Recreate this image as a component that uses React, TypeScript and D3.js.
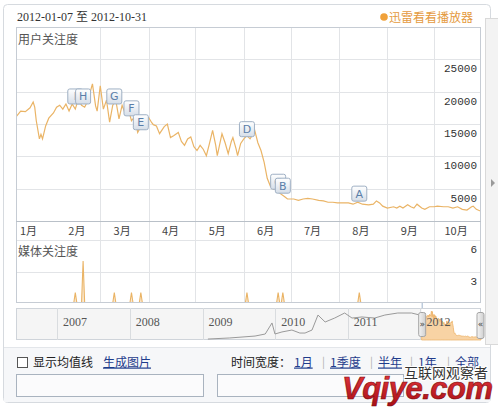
import React from "react";
import * as d3 from "d3";

const W = 498;
const H = 408;

// 用户关注度 (daily attention index, 2012)
const attentionDates = [
  "01-07", "01-10", "01-13", "01-16", "01-18", "01-19", "01-20", "01-22", "01-23", "01-24",
  "01-26", "01-28", "01-31", "02-02", "02-04", "02-06", "02-08", "02-10", "02-12", "02-14",
  "02-16", "02-18", "02-20", "02-22", "02-25", "02-27", "02-28", "03-01", "03-03", "03-05",
  "03-07", "03-09", "03-11", "03-13", "03-15", "03-17", "03-19", "03-21", "03-23", "03-25",
  "03-27", "03-28", "03-30", "04-01", "04-03", "04-04", "04-06", "04-08", "04-11", "04-13",
  "04-15", "04-17", "04-20", "04-22", "04-24", "04-26", "04-28", "04-30", "05-02", "05-04",
  "05-06", "05-08", "05-10", "05-12", "05-14", "05-15", "05-18", "05-20", "05-22", "05-24",
  "05-25", "05-27", "05-28", "05-30", "06-01", "06-03", "06-05", "06-07", "06-08", "06-10",
  "06-12", "06-14", "06-16", "06-18", "06-20", "06-22", "06-24", "06-27", "06-29", "07-03",
  "07-06", "07-09", "07-12", "07-15", "07-19", "07-22", "07-25", "07-28", "07-31", "08-04",
  "08-07", "08-10", "08-13", "08-16", "08-20", "08-23", "08-25", "08-27", "08-29", "09-01",
  "09-05", "09-07", "09-09", "09-11", "09-14", "09-16", "09-18", "09-20", "09-23", "09-25",
  "09-28", "10-01", "10-03", "10-07", "10-10", "10-13", "10-16", "10-19", "10-22", "10-25",
  "10-26", "10-28", "10-31",
];
const attentionValues = [
  16100, 17000, 16900, 17500, 18400, 17600, 15500, 12700, 13400, 12700,
  14700, 15900, 16700, 17600, 17900, 17300, 18100, 17000, 18100, 17300,
  18900, 17900, 17600, 18600, 21200, 17800, 17000, 20900, 17300, 18700,
  15300, 17900, 18600, 15800, 17900, 16600, 17300, 15500, 16100, 13700,
  14600, 14300, 15700, 16000, 15200, 14900, 14700, 13500, 14600, 15000,
  12900, 13200, 13700, 12300, 11700, 12700, 13000, 11500, 10900, 11700,
  11100, 10100, 12000, 14000, 11700, 10100, 13500, 12100, 10400, 12300,
  12900, 11200, 10100, 12000, 12700, 13200, 12700, 13500, 14000, 12100,
  10900, 9100, 6600, 5400, 4900, 5200, 4300, 3800, 3400, 3400,
  3200, 3400, 3500, 3400, 3200, 3100, 2900, 2900, 2800, 2800,
  2800, 2600, 2900, 2600, 2500, 2600, 3100, 2800, 2300, 2000,
  2200, 2000, 2300, 2000, 2500, 2200, 2000, 2600, 2000, 1800,
  2200, 2200, 2300, 2200, 2200, 2000, 2200, 1800, 1700, 2200,
  2300, 1800, 1500,
];

const monthLabels = ["1月", "2月", "3月", "4月", "5月", "6月", "7月", "8月", "9月", "10月"];
const attentionTicks = [5000, 10000, 15000, 20000, 25000];

// 媒体关注度 (news items per day) and the lettered events on the same days
const mediaDates = [
  "2012-02-14", "2012-02-19", "2012-03-10", "2012-03-21", "2012-03-27",
  "2012-06-03", "2012-06-23", "2012-06-26", "2012-08-14",
];
const mediaCounts = [1, 4, 1, 1, 1, 1, 1, 1, 1];
const mediaTicks = [3, 6];
const eventLetters = ["I", "H", "G", "F", "E", "D", "C", "B", "A"];
const eventLevels = [18100, 18100, 18100, 16260, 14110, 13040, 4910, 4300, 3070];

// long-range overview before the selected window
const historyDates = [
  "2009-01-28", "2009-05-18", "2009-09-22", "2009-11-12", "2009-12-16", "2009-12-31",
  "2010-02-04", "2010-03-26", "2010-05-05", "2010-05-31", "2010-07-05", "2010-08-04",
  "2010-09-09", "2010-10-27", "2010-12-16", "2011-01-22", "2011-03-13", "2011-05-16",
  "2011-07-06", "2011-09-09", "2011-11-17", "2011-12-29",
];
const historyValues = [
  700, 1500, 2900, 4400, 12500, 4400,
  5900, 7300, 5100, 5100, 7300, 18300,
  13200, 16100, 19800, 16100, 16900, 16100,
  18300, 19800, 19800, 18300,
];
const yearLabels = ["2007", "2008", "2009", "2010", "2011", "2012"];

const spanOptions = ["1月", "1季度", "半年", "1年", "全部"];

const parse = d3.timeParse("%Y-%m-%d");
const CJK = "'Noto Sans CJK SC', 'Noto Sans', sans-serif";
const SERIF = "'Liberation Serif', 'DejaVu Serif', serif";
const MONO = "'Liberation Mono', 'DejaVu Sans Mono', monospace";

const LINE_COLOR = "#EAB466";

export default function App() {
  const start = parse("2012-01-07") as Date;
  const end = parse("2012-10-31") as Date;

  const plotL = 16;
  const plotR = 481;
  const plotT = 27;
  const mainB = 221;
  const mediaT = 240;
  const mediaB = 303;
  const navT = 308;
  const navB = 340;

  const x = d3.scaleTime().domain([start, end]).range([plotL, plotR]);
  const y = d3.scaleLinear().domain([0, 30000]).range([mainB, plotT]);
  const yMedia = d3.scaleLinear().domain([0, 6]).range([mediaB, mediaT]);

  const attention = attentionDates.map((d, i) => ({
    date: parse("2012-" + d) as Date,
    value: attentionValues[i],
  }));

  const line = d3
    .line<{ date: Date; value: number }>()
    .x((d) => x(d.date))
    .y((d) => y(d.value));

  // daily media series, zero on days without coverage
  const countByDay = new Map(mediaDates.map((d, i) => [d, mediaCounts[i]]));
  const fmt = d3.timeFormat("%Y-%m-%d");
  const mediaSeries = d3.timeDay
    .range(start, d3.timeDay.offset(end, 1))
    .map((d) => ({ date: d, value: countByDay.get(fmt(d)) ?? 0 }));
  const mediaArea = d3
    .area<{ date: Date; value: number }>()
    .x((d) => x(d.date))
    .y0(mediaB)
    .y1((d) => yMedia(d.value));
  const mediaLine = d3
    .line<{ date: Date; value: number }>()
    .x((d) => x(d.date))
    .y((d) => yMedia(d.value));

  const monthStarts = d3.timeMonth.range(d3.timeMonth.offset(start, 1), end);

  // overview navigator
  const navX = d3
    .scaleTime()
    .domain([parse("2006-06-09") as Date, end])
    .range([plotL, plotR]);
  const navY = d3.scaleLinear().domain([0, 22000]).range([navB, navB - 30]);
  const history = historyDates.map((d, i) => ({
    date: parse(d) as Date,
    value: historyValues[i],
  }));
  const navLine = d3
    .line<{ date: Date; value: number }>()
    .x((d) => navX(d.date))
    .y((d) => navY(d.value));
  const navArea = d3
    .area<{ date: Date; value: number }>()
    .x((d) => navX(d.date))
    .y0(navB)
    .y1((d) => navY(d.value));
  const selL = navX(start);
  const yearStarts = yearLabels.map((yr) => parse(yr + "-01-01") as Date);

  const spanX = [294, 330, 378, 418, 455];

  return (
    <svg
      width={W}
      height={H}
      style={{ position: "absolute", left: 0, top: 0, background: "#fff" }}
    >
      <defs>
        <linearGradient id="evtFill" x1="0" y1="0" x2="0" y2="1">
          <stop offset="0" stopColor="#ffffff" />
          <stop offset="1" stopColor="#d6dee8" />
        </linearGradient>
        <linearGradient id="handleFill" x1="0" y1="0" x2="1" y2="0">
          <stop offset="0" stopColor="#f4f4f4" />
          <stop offset="1" stopColor="#cfcfcf" />
        </linearGradient>
        <linearGradient id="brandFill" x1="0" y1="0" x2="0" y2="1">
          <stop offset="0" stopColor="#e8373d" />
          <stop offset="1" stopColor="#a80f16" />
        </linearGradient>
        <clipPath id="plotClip">
          <rect x={plotL} y={plotT} width={plotR - plotL} height={mediaB - plotT} />
        </clipPath>
      </defs>

      {/* outer frame */}
      <rect x={3.5} y={4.5} width={487} height={398} rx={4} fill="#fff" stroke="#d6dadf" />
      <rect x={4} y={347} width={486} height={55} fill="#f6f7f9" />
      <line x1={4} x2={490} y1={347.5} y2={347.5} stroke="#e3e6ea" />

      {/* side tab */}
      <rect x={485.5} y={18.5} width={14} height={326} fill="#f3f3f3" stroke="#d9d9d9" />
      <path d="M491,179 L495,183 L491,187 Z" fill="#9a9a9a" />

      {/* header */}
      <text x={17} y={21} fontFamily={SERIF} fontSize={12} fill="#333">
        2012-01-07 <tspan fontFamily={CJK}>至</tspan> 2012-10-31
      </text>
      <circle cx={384} cy={17} r={3.8} fill="#F0A13A" />
      <text x={389} y={21.5} fontFamily={CJK} fontSize={12} fill="#E49A3E">
        迅雷看看播放器
      </text>

      {/* plot background and grid */}
      <rect x={plotL} y={plotT} width={plotR - plotL} height={mediaB - plotT} fill="#fff" />
      {monthStarts.map((m, i) => (
        <line
          key={"vg" + i}
          x1={Math.round(x(m)) + 0.5}
          x2={Math.round(x(m)) + 0.5}
          y1={plotT}
          y2={mediaB}
          stroke="#e2e4e7"
        />
      ))}
      {attentionTicks.map((t) => (
        <line
          key={"hg" + t}
          x1={plotL}
          x2={plotR}
          y1={Math.round(y(t)) + 0.5}
          y2={Math.round(y(t)) + 0.5}
          stroke="#e2e4e7"
        />
      ))}
      {mediaTicks
        .filter((t) => t < 6)
        .map((t) => (
          <line
            key={"mg" + t}
            x1={plotL}
            x2={plotR}
            y1={Math.round(yMedia(t)) + 0.5}
            y2={Math.round(yMedia(t)) + 0.5}
            stroke="#e2e4e7"
          />
        ))}
      <line x1={plotL} x2={plotR} y1={mediaT + 0.5} y2={mediaT + 0.5} stroke="#e2e4e7" />

      {/* y labels */}
      {attentionTicks.map((t) => (
        <text
          key={"yl" + t}
          x={477}
          y={y(t) + 13}
          textAnchor="end"
          fontFamily={MONO}
          fontSize={11}
          fill="#333"
        >
          {t}
        </text>
      ))}
      {mediaTicks.map((t) => (
        <text
          key={"ml" + t}
          x={477}
          y={yMedia(t) + 13}
          textAnchor="end"
          fontFamily={MONO}
          fontSize={11}
          fill="#333"
        >
          {t}
        </text>
      ))}

      <text x={18} y={44} fontFamily={CJK} fontSize={12} fill="#555">
        用户关注度
      </text>
      <text x={18} y={256} fontFamily={CJK} fontSize={12} fill="#555">
        媒体关注度
      </text>

      {/* month labels */}
      {monthLabels.map((lab, i) => (
        <text
          key={"mo" + i}
          x={x(new Date(2012, i, 15))}
          y={235}
          textAnchor="middle"
          fontFamily={CJK}
          fontSize={11}
          fill="#444"
        >
          {lab}
        </text>
      ))}

      {/* series */}
      <g clipPath="url(#plotClip)">
        <path d={line(attention) ?? ""} fill="none" stroke={LINE_COLOR} strokeWidth={1.2} />
        <path d={mediaArea(mediaSeries) ?? ""} fill="#F7D9B0" opacity={0.6} />
        <path d={mediaLine(mediaSeries) ?? ""} fill="none" stroke={LINE_COLOR} strokeWidth={1.1} />
      </g>

      {/* event flags */}
      {eventLetters.map((letter, i) => {
        const cx = x(parse(mediaDates[i]) as Date);
        const bottom = y(eventLevels[i]);
        return (
          <g key={"ev" + letter}>
            <rect
              x={cx - 7.5}
              y={bottom - 15}
              width={15}
              height={15}
              rx={2}
              fill="url(#evtFill)"
              stroke="#9fb0c4"
            />
            <text
              x={cx}
              y={bottom - 3.5}
              textAnchor="middle"
              fontFamily="'DejaVu Sans', sans-serif"
              fontSize={11}
              fill="#5a7ea8"
            >
              {letter}
            </text>
          </g>
        );
      })}

      {/* plot frame */}
      <rect
        x={plotL + 0.5}
        y={plotT + 0.5}
        width={plotR - plotL - 1}
        height={mediaB - plotT - 1}
        fill="none"
        stroke="#c6ccd4"
      />
      <line x1={plotL} x2={plotR} y1={mainB + 0.5} y2={mainB + 0.5} stroke="#b9c0c8" />

      {/* navigator */}
      <rect x={plotL + 0.5} y={navT + 0.5} width={plotR - plotL - 1} height={navB - navT - 1} fill="#f5f5f5" stroke="#cfd4da" />
      <rect x={selL} y={navT + 1} width={plotR - selL - 1} height={navB - navT - 2} fill="#fff" />
      {yearStarts.map((d, i) => (
        <line
          key={"yd" + i}
          x1={Math.round(navX(d)) + 0.5}
          x2={Math.round(navX(d)) + 0.5}
          y1={navT}
          y2={navB}
          stroke="#d9dcdf"
        />
      ))}
      <path d={navLine(history) ?? ""} fill="none" stroke="#9a9a9a" strokeWidth={1} />
      <path d={navArea(attention) ?? ""} fill="#F8D3A4" stroke="#EDB46A" strokeWidth={0.8} />
      {yearStarts.map((d, i) => (
        <text
          key={"yl" + i}
          x={navX(d) + 6}
          y={326}
          fontFamily={SERIF}
          fontSize={12}
          fill="#555"
        >
          {yearLabels[i]}
        </text>
      ))}
      <line x1={selL + 0.5} x2={selL + 0.5} y1={mediaB} y2={navT} stroke="#9db3cc" />
      <rect x={selL - 3} y={312.5} width={7} height={24} rx={2} fill="url(#handleFill)" stroke="#a5a5a5" />
      <text x={selL + 0.5} y={327} textAnchor="middle" fontSize={9} fill="#444" fontFamily="'DejaVu Sans', sans-serif">»</text>
      <rect x={plotR - 4} y={312.5} width={7} height={26} rx={2} fill="url(#handleFill)" stroke="#a5a5a5" />
      <text x={plotR - 0.5} y={327} textAnchor="middle" fontSize={9} fill="#444" fontFamily="'DejaVu Sans', sans-serif">«</text>

      {/* controls */}
      <rect x={17.5} y={357.5} width={10} height={10} fill="#fff" stroke="#555" />
      <text x={33} y={366.5} fontFamily={CJK} fontSize={12} fill="#222">
        显示均值线
      </text>
      <text x={103} y={366.5} fontFamily={CJK} fontSize={12} fill="#1f3c8c" textDecoration="underline">
        生成图片
      </text>
      <rect x={16.5} y={374.5} width={187} height={22} fill="#fbfbfc" stroke="#a9b3bf" />
      <rect x={217.5} y={374.5} width={186} height={22} fill="#fbfbfc" stroke="#a9b3bf" />

      <text x={231} y={366.5} fontFamily={CJK} fontSize={12} fill="#222">
        时间宽度：
      </text>
      {spanOptions.map((s, i) => (
        <g key={"sp" + i}>
          <text x={spanX[i]} y={366.5} fontFamily={CJK} fontSize={12} fill="#1f3c8c" textDecoration="underline">
            {s}
          </text>
          {i > 0 && (
            <text x={spanX[i] - 8} y={366} fontFamily={CJK} fontSize={11} fill="#b0b0b0">
              |
            </text>
          )}
        </g>
      ))}

      {/* site mark */}
      <text
        x={342}
        y={399}
        fontFamily="'Liberation Sans', 'DejaVu Sans', sans-serif"
        fontSize={31}
        fontWeight={900}
        fontStyle="italic"
        fill="url(#brandFill)"
        stroke="#7a0a0e"
        strokeWidth={0.6}
        letterSpacing={-0.5}
      >
        Vqiye.com
      </text>
      <text x={404} y={378} fontFamily={CJK} fontSize={14} fill="#333" stroke="#fff" strokeWidth={2} paintOrder="stroke">
        互联网观察者
      </text>
    </svg>
  );
}
